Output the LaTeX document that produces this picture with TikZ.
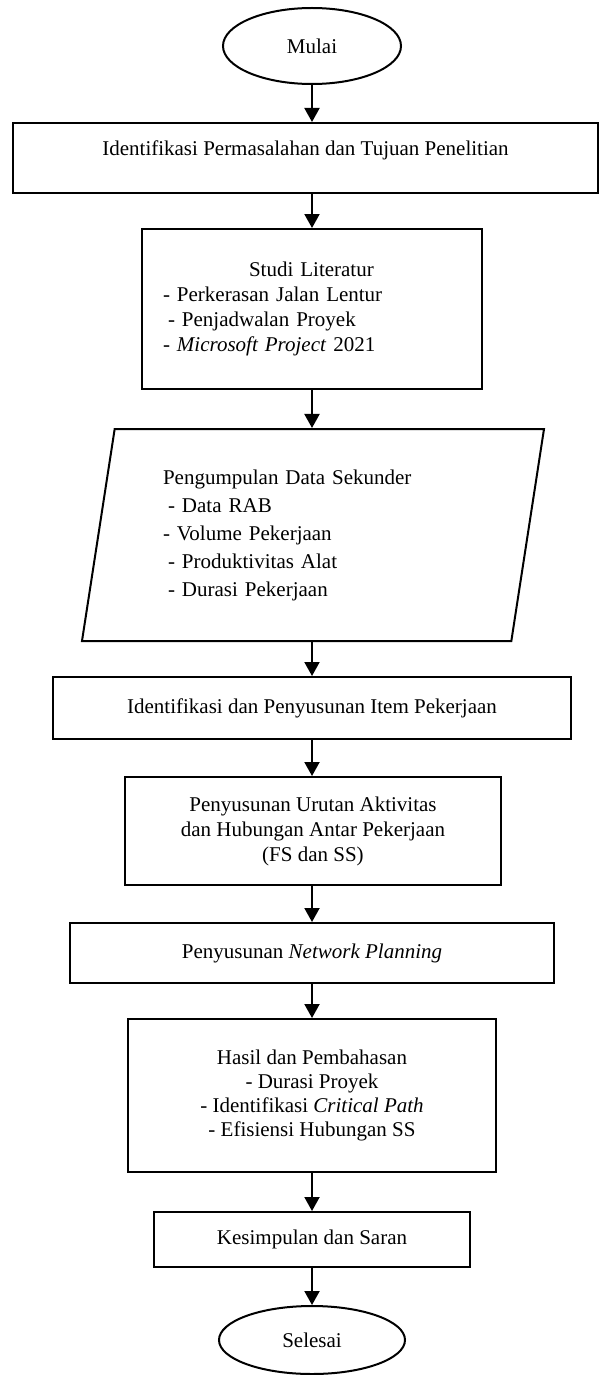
\documentclass[tikz,border=0pt]{standalone}
\usepackage{fontspec}
\setmainfont{Liberation Serif}
\usetikzlibrary{shapes.geometric,arrows.meta}
\begin{document}
\begin{tikzpicture}[x=1pt, y=-1pt, line width=2pt,
  every node/.style = {draw, align=center, inner sep=0pt,
    font=\fontsize{21}{25}\selectfont},
  box/.style = {shape=rectangle},
  oval/.style = {shape=ellipse},
  data/.style = {shape=trapezium, trapezium left angle=76,
    trapezium right angle=104, trapezium stretches body},
  flow/.style = {-{Triangle[width=15pt,length=14pt]}}]
\useasboundingbox (0,0) rectangle (600,1375);
\node[oval, minimum width=178pt, minimum height=76pt] (mulai) at (312,46) {Mulai};
\node[box, minimum width=585pt, minimum height=70pt, text depth=20pt] (tujuan) at (305.5,158)
  {Identifikasi Permasalahan dan Tujuan Penelitian};
\node[box, minimum width=340pt, minimum height=160pt, text width=298pt, align=left] (studi) at (312,309)
  {\hspace*{86pt}Studi Literatur\\
   - Perkerasan Jalan Lentur\\
   \hspace*{5pt}- Penjadwalan Proyek\\
   - \textit{Microsoft Project} 2021};
\node[data, minimum width=462pt, minimum height=212pt, text width=300pt, align=left,
  font=\fontsize{21}{28}\selectfont] (sekunder) at (313,535)
  {Pengumpulan Data Sekunder\\
   \hspace*{5pt}- Data RAB\\
   - Volume Pekerjaan\\
   \hspace*{5pt}- Produktivitas Alat\\
   \hspace*{5pt}- Durasi Pekerjaan};
\node[box, minimum width=518pt, minimum height=62pt] (item) at (312,708)
  {Identifikasi dan Penyusunan Item Pekerjaan};
\node[box, minimum width=376pt, minimum height=108pt] (urutan) at (313,831)
  {Penyusunan Urutan Aktivitas\\ dan Hubungan Antar Pekerjaan\\ (FS dan SS)};
\node[box, minimum width=484pt, minimum height=60pt] (network) at (312,953)
  {Penyusunan \textit{Network Planning}};
\node[box, minimum width=368pt, minimum height=153pt, font=\fontsize{21}{24}\selectfont] (hasil) at (312,1095.5)
  {Hasil dan Pembahasan\\ - Durasi Proyek\\ - Identifikasi \textit{Critical Path}\\ - Efisiensi Hubungan SS};
\node[box, minimum width=316pt, minimum height=55pt] (saran) at (312,1239.5)
  {Kesimpulan dan Saran};
\node[oval, minimum width=186pt, minimum height=68pt] (selesai) at (312,1340) {Selesai};
\draw[flow] (mulai.south) -- (mulai.south |- tujuan.north);
\draw[flow] (studi.north |- tujuan.south) -- (studi.north);
\draw[flow] (studi.south) -- (studi.south |- sekunder.north);
\draw[flow] (item.north |- sekunder.south) -- (item.north);
\draw[flow] (item.south) -- (item.south |- urutan.north);
\draw[flow] (network.north |- urutan.south) -- (network.north);
\draw[flow] (network.south) -- (network.south |- hasil.north);
\draw[flow] (hasil.south) -- (hasil.south |- saran.north);
\draw[flow] (saran.south) -- (saran.south |- selesai.north);
\end{tikzpicture}
\end{document}
